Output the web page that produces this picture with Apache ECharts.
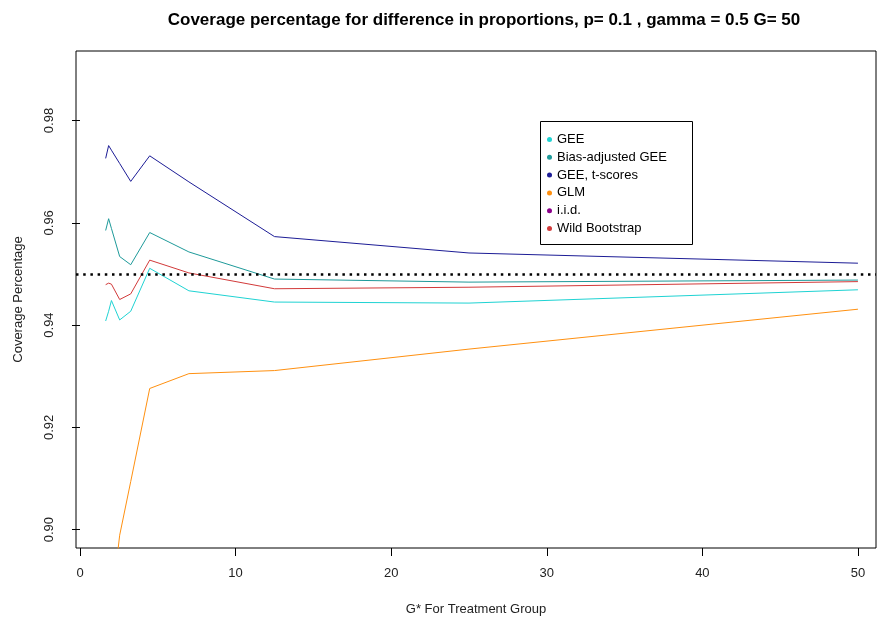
<!DOCTYPE html>
<html>
<head>
<meta charset="utf-8">
<script src="https://cdn.jsdelivr.net/npm/echarts@6/dist/echarts.min.js"></script>
<style>html,body{margin:0;padding:0;background:#fff;}#c{width:878px;height:621px;}</style>
</head>
<body>
<div id="c"></div>
<script>
// G* values (x axis)
const gStar = [1.65, 1.84, 2.02, 2.55, 3.26, 4.48, 7, 12.5, 25, 50];
// Coverage values per method
const gee         = [0.9408, 0.9427, 0.9448, 0.9410, 0.9427, 0.9511, 0.9467, 0.9445, 0.9443, 0.9469];
const biasAdjGee  = [0.9585, 0.9608, 0.9589, 0.9534, 0.9518, 0.9581, 0.9543, 0.9490, 0.9484, 0.9488];
const geeTScores  = [0.9726, 0.9751, 0.9742, 0.9716, 0.9681, 0.9731, 0.9680, 0.9573, 0.9541, 0.9521];
const glm         = [0.8650, 0.8720, 0.8850, 0.8989, 0.9094, 0.9276, 0.9305, 0.9311, 0.9353, 0.9431];
const iid         = [];
const wildBoot    = [0.9479, 0.9482, 0.9480, 0.9450, 0.9461, 0.9527, 0.9502, 0.9471, 0.9474, 0.9485];
const nominal = 0.95;
const xTicks = [0, 10, 20, 30, 40, 50];
const yTicks = [0.90, 0.92, 0.94, 0.96, 0.98];
const seriesNames = ['GEE', 'Bias-adjusted GEE', 'GEE, t-scores', 'GLM', 'i.i.d.', 'Wild Bootstrap'];
const seriesData = [gee, biasAdjGee, geeTScores, glm, iid, wildBoot];
const colors = ['#1fd3d3', '#1e9a9a', '#1c1c96', '#ff9010', '#8b008b', '#d23a3a'];

const FONT = 'Liberation Sans, Arial, sans-serif';
const chart = echarts.init(document.getElementById('c'), null, {renderer: 'canvas'});

const series = seriesNames.map((n, i) => ({
  name: n,
  type: 'line',
  data: seriesData[i].map((v, j) => [gStar[j], v]),
  showSymbol: false,
  symbol: 'circle',
  clip: true,
  lineStyle: {width: 1, color: colors[i]},
  itemStyle: {color: colors[i]},
  emphasis: {disabled: true},
  z: 2
}));
series[0].markLine = {
  silent: true,
  symbol: ['none', 'none'],
  label: {show: false},
  lineStyle: {color: '#000', width: 2.5, type: [2.5, 4.7], cap: 'butt'},
  data: [{yAxis: nominal}],
  animation: false
};

chart.setOption({
  animation: false,
  backgroundColor: '#fff',
  title: {
    text: 'Coverage percentage for difference in proportions, p= 0.1 , gamma = 0.5 G= 50',
    left: 479, top: 7, textAlign: 'center',
    textStyle: {fontFamily: FONT, fontSize: 17, fontWeight: 'bold', color: '#000'}
  },
  graphic: [{
    type: 'rect', z: 3,
    shape: {x: 540.5, y: 121.5, width: 152, height: 123},
    style: {fill: '#fff', stroke: '#000', lineWidth: 1}
  }],
  legend: {
    orient: 'vertical', left: 542, top: 122, z: 4,
    padding: [11, 10, 10, 5],
    itemWidth: 5, itemHeight: 5, itemGap: 4.8, icon: 'circle',
    textStyle: {fontFamily: FONT, fontSize: 13, color: '#000', lineHeight: 13},
    data: seriesNames,
    selectedMode: false
  },
  grid: {left: 76, top: 51, right: 2, bottom: 70, show: true, borderColor: '#000', borderWidth: 1, backgroundColor: 'transparent'},
  xAxis: {
    type: 'value', min: -0.257, max: 51.16,
    name: 'G* For Treatment Group', nameLocation: 'middle', nameGap: 55,
    nameTextStyle: {fontFamily: FONT, fontSize: 13, color: '#222'},
    axisLine: {show: false},
    axisTick: {show: true, inside: false, length: 8, customValues: xTicks, lineStyle: {color: '#000'}},
    axisLabel: {customValues: xTicks, margin: 19, fontFamily: FONT, fontSize: 13, color: '#222'},
    splitLine: {show: false}
  },
  yAxis: {
    type: 'value', min: 0.8964, max: 0.9936,
    name: 'Coverage Percentage', nameLocation: 'middle', nameGap: 51,
    nameTextStyle: {fontFamily: FONT, fontSize: 13, color: '#222'},
    axisLine: {show: false},
    axisTick: {show: true, inside: false, length: 8, customValues: yTicks, lineStyle: {color: '#000'}},
    axisLabel: {customValues: yTicks, rotate: 90, margin: 20, fontFamily: FONT, fontSize: 13, color: '#222',
      formatter: v => v.toFixed(2)},
    splitLine: {show: false}
  },
  series: series
});
</script>
</body>
</html>
